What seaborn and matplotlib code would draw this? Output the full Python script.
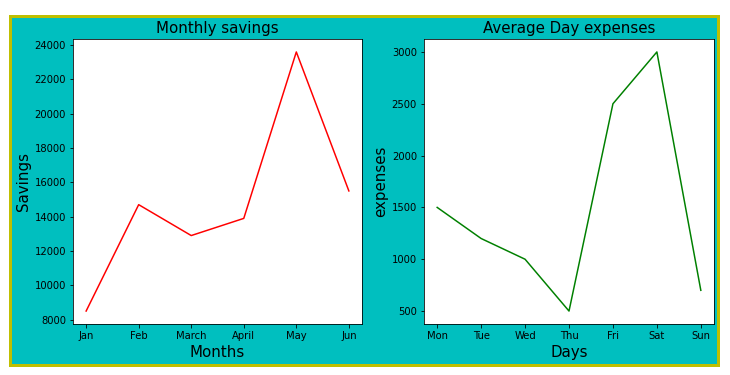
import matplotlib
matplotlib.use("Agg")
import matplotlib.pyplot as plt
from matplotlib.patches import Rectangle
import seaborn as sns

# data
months = ["Jan", "Feb", "March", "April", "May", "Jun"]
savings = [8500, 14700, 12900, 13900, 23600, 15500]

days = ["Mon", "Tue", "Wed", "Thu", "Fri", "Sat", "Sun"]
expenses = [1500, 1200, 1000, 500, 2500, 3000, 700]

W, H = 730, 375
fig = plt.figure(figsize=(W / 72, H / 72), dpi=72, facecolor="white")

# cyan panel with yellow border (like a figure saved with facecolor='c', edgecolor='y')
fig.patches.append(Rectangle((9.5 / W, (H - 365) / H), (718 - 9.5) / W, (365 - 16) / H,
                             transform=fig.transFigure, facecolor="c",
                             edgecolor="y", linewidth=3, zorder=-10))

ax1 = fig.add_axes([73 / W, (H - 324) / H, (362 - 73) / W, (324 - 39) / H])
ax2 = fig.add_axes([424 / W, (H - 324) / H, (714 - 424) / W, (324 - 39) / H])

sns.lineplot(x=months, y=savings, color="red", ax=ax1)
ax1.set_title("Monthly savings", fontsize=15)
ax1.set_xlabel("Months", fontsize=15)
ax1.set_ylabel("Savings", fontsize=15)

sns.lineplot(x=days, y=expenses, color="green", ax=ax2)
ax2.set_title("Average Day expenses", fontsize=15)
ax2.set_xlabel("Days", fontsize=15)
ax2.set_ylabel("expenses", fontsize=15)

for ax in (ax1, ax2):
    ax.set_facecolor("white")
    ax.tick_params(labelsize=10)

fig.savefig("out.png", dpi=72, facecolor="white")
